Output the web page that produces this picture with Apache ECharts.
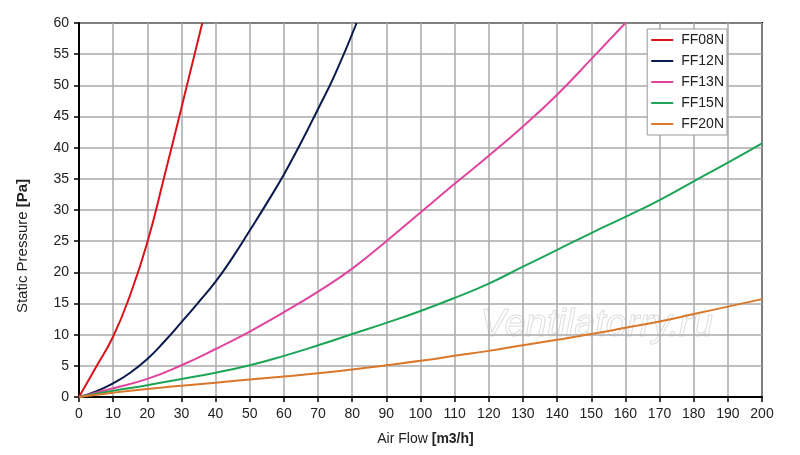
<!DOCTYPE html>
<html>
<head>
<meta charset="utf-8">
<script src="https://cdn.jsdelivr.net/npm/echarts@6/dist/echarts.min.js"></script>
<style>html,body{margin:0;padding:0;background:#fff}#c{width:800px;height:455px}</style>
</head>
<body>
<div id="c"></div>
<script>
// Data
const seriesNames = ['FF08N', 'FF12N', 'FF13N', 'FF15N', 'FF20N'];
const ff08nX = [0, 5, 10, 15, 20, 25, 30, 36.1];
const ff08nY = [0, 4.8, 9.7, 16.4, 24.8, 35.4, 46.4, 60];
const ff12nX = [0, 5, 10, 15, 20, 25, 30, 35, 40, 45, 50, 55, 60, 65, 70, 75, 81.3];
const ff12nY = [0, 0.9, 2.2, 3.9, 6.1, 8.9, 12.0, 15.2, 18.5, 22.4, 26.7, 31.1, 35.7, 40.8, 46.2, 51.8, 60];
const ff13nX = [0, 10, 20, 30, 40, 50, 60, 70, 80, 90, 100, 110, 120, 130, 140, 150, 160];
const ff13nY = [0, 1.4, 2.9, 5.1, 7.7, 10.5, 13.6, 16.9, 20.6, 25.0, 29.6, 34.2, 38.7, 43.4, 48.5, 54.2, 60];
const ff15nX = [0, 10, 20, 30, 40, 50, 60, 70, 80, 90, 100, 110, 120, 130, 140, 150, 160, 170, 180, 190, 200];
const ff15nY = [0, 1.0, 1.9, 2.9, 3.9, 5.1, 6.6, 8.3, 10.1, 11.9, 13.8, 15.9, 18.2, 20.9, 23.6, 26.3, 28.9, 31.6, 34.6, 37.6, 40.7];
const ff20nX = [0, 10, 20, 30, 40, 50, 60, 70, 80, 90, 100, 110, 120, 130, 140, 150, 160, 170, 180, 190, 200];
const ff20nY = [0, 0.7, 1.3, 1.8, 2.3, 2.8, 3.3, 3.8, 4.4, 5.1, 5.8, 6.6, 7.4, 8.3, 9.2, 10.1, 11.1, 12.1, 13.3, 14.5, 15.7];
const colors = ['#d7141a', '#0b1a4c', '#e0449e', '#1ea456', '#d9782a'];

const xsAll = [ff08nX, ff12nX, ff13nX, ff15nX, ff20nX];
const ysAll = [ff08nY, ff12nY, ff13nY, ff15nY, ff20nY];

const chart = echarts.init(document.getElementById('c'));
const font = 'Liberation Sans, Arial, sans-serif';
chart.setOption({
  animation: false,
  backgroundColor: '#fff',
  textStyle: { fontFamily: font },
  grid: { left: 79, right: 38, top: 23, bottom: 58, show: true, borderColor: '#000', borderWidth: 2, backgroundColor: 'transparent' },
  legend: {
    orient: 'vertical',
    right: 73, top: 29,
    backgroundColor: '#fff',
    borderColor: '#999',
    borderWidth: 1,
    borderRadius: 0,
    padding: [4, 3, 4, 4],
    itemGap: 7,
    itemWidth: 22,
    itemHeight: 14,
    icon: 'path://M0,6 L22,6 L22,8 L0,8 Z',
    textStyle: { fontSize: 14, color: '#222', fontFamily: font, padding: [0, 0, 0, 3] },
    data: seriesNames
  },
  graphic: [{
    type: 'text', left: 480, top: 306, z: 0,
    style: { text: 'Ventilatorry.ru', font: 'italic 38px "Liberation Sans", Arial, sans-serif', fill: 'rgba(255,255,255,0.2)', stroke: 'rgba(170,170,170,0.45)', lineWidth: 1 }
  }],
  xAxis: {
    type: 'value', min: 0, max: 200, interval: 10,
    name: '{n|Air Flow }{b|[m3/h]}',
    nameLocation: 'middle', nameGap: 35,
    nameTextStyle: { padding: [0, 0, 0, 10], rich: { n: { fontSize: 14, color: '#222', fontFamily: font }, b: { fontSize: 14, fontWeight: 'bold', color: '#222', fontFamily: font } } },
    axisLine: { show: true, lineStyle: { color: '#000', width: 2 } },
    axisTick: { show: true, length: 5, lineStyle: { color: '#000', width: 1.5 } },
    axisLabel: { fontSize: 14, color: '#222', margin: 10, fontFamily: font },
    splitLine: { show: true, lineStyle: { color: '#aaa', width: 1.5 } }
  },
  yAxis: {
    type: 'value', min: 0, max: 60, interval: 5,
    name: '{n|Static Pressure }{b|[Pa]}',
    nameLocation: 'middle', nameGap: 49,
    nameTextStyle: { padding: [0, 72, 0, 0], rich: { n: { fontSize: 15, color: '#222', fontFamily: font }, b: { fontSize: 15, fontWeight: 'bold', color: '#222', fontFamily: font } } },
    axisLine: { show: true, lineStyle: { color: '#000', width: 2 } },
    axisTick: { show: true, length: 5, lineStyle: { color: '#000', width: 1.5 } },
    axisLabel: { fontSize: 14, color: '#222', margin: 10, fontFamily: font },
    splitLine: { show: true, lineStyle: { color: '#aaa', width: 1.5 } }
  },
  series: seriesNames.map((n, i) => ({
    name: n, type: 'line', smooth: 0.5, showSymbol: false, clip: true,
    color: colors[i],
    lineStyle: { width: 2, color: colors[i] },
    data: xsAll[i].map((x, k) => [x, ysAll[i][k]]),
    z: 3
  }))
});
</script>
</body>
</html>
